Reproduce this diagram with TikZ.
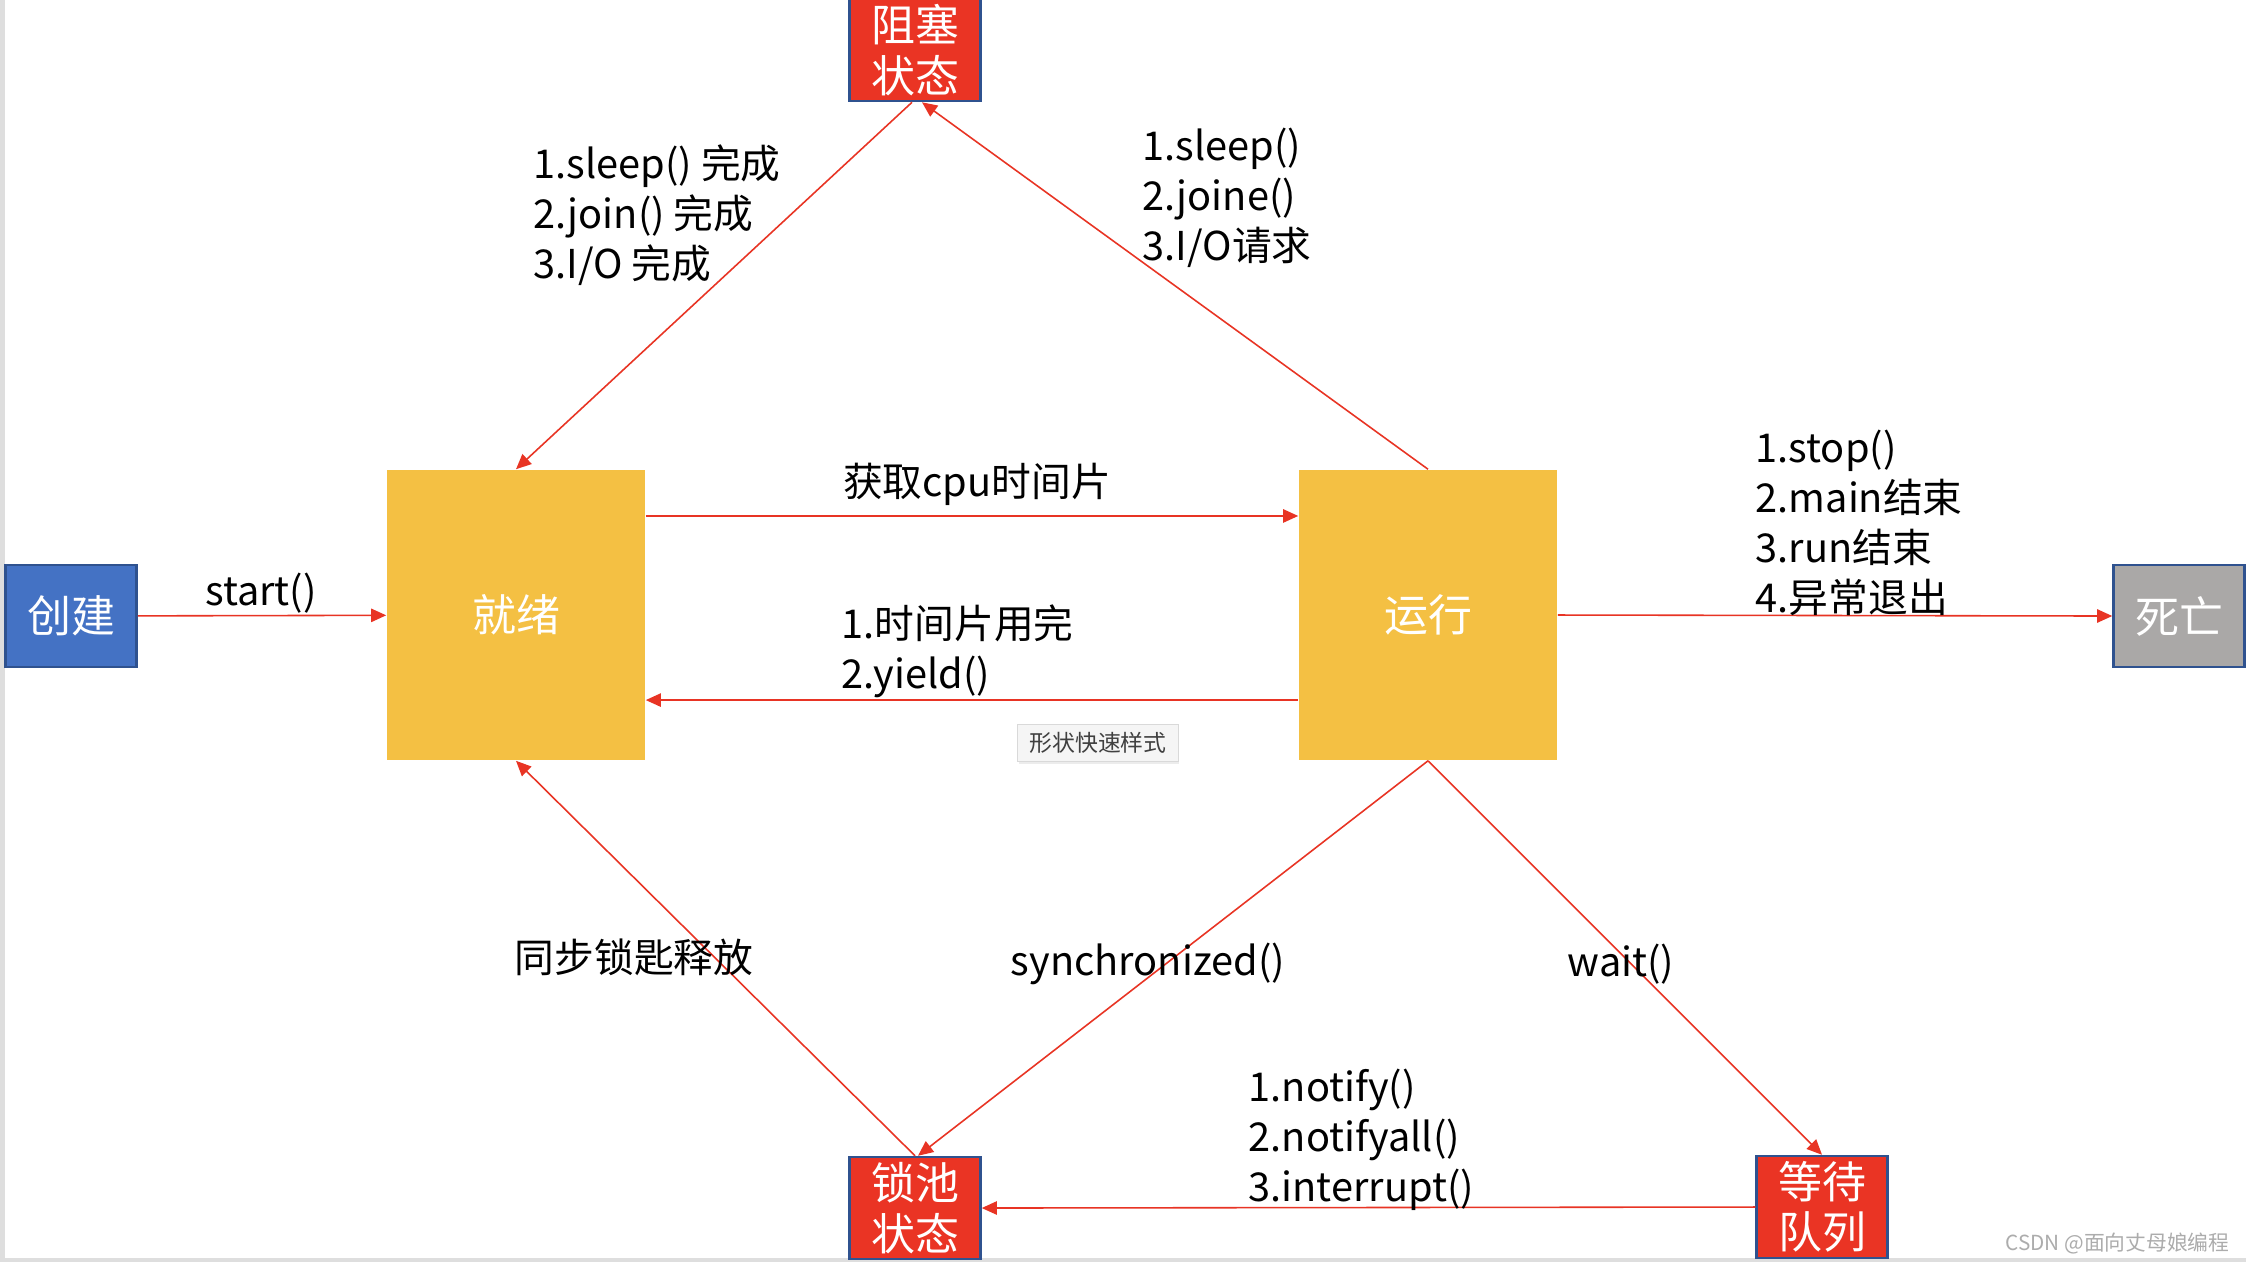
\documentclass[tikz,border=0pt]{standalone}
\usepackage{fontspec}
\setmainfont{Noto Sans CJK SC}
\usetikzlibrary{arrows.meta, positioning, shadows}
\definecolor{stateyellow}{RGB}{244,192,67}
\definecolor{stateblue}{RGB}{68,114,196}
\definecolor{statered}{RGB}{234,52,36}
\definecolor{stategray}{RGB}{170,168,167}
\definecolor{borderblue}{RGB}{47,82,143}
\definecolor{linered}{RGB}{232,52,36}
\definecolor{framegray}{RGB}{222,222,222}

\begin{document}
\begin{tikzpicture}[x=0.01cm, y=-0.01cm,
    state/.style={draw=borderblue, line width=0.7pt, text=white, align=center, inner sep=0pt,
      font=\fontsize{12.5}{14.3}\selectfont, minimum width=1.31cm, minimum height=1.02cm},
    bigstate/.style={fill=stateyellow, text=white, inner sep=0pt,
      font=\fontsize{12.5}{14.3}\selectfont, minimum width=2.58cm, minimum height=2.9cm},
    trans/.style={draw=linered, line width=0.45pt, -{Triangle[length=4.3pt, width=3.8pt]}},
    lbl/.style={font=\fontsize{11.3}{14.2}\selectfont, align=left, inner sep=0pt},
  ]
  \useasboundingbox (0,0) rectangle (2246,1262);
  \fill[white] (0,0) rectangle (2246,1262);
  \fill[framegray] (0,0) rectangle (5,1262);
  \fill[framegray] (0,1258) rectangle (2246,1262);

  % states
  \node[state, fill=stateblue] (create) at (71,616) {创建};
  \node[bigstate] (ready) at (516,615) {就绪};
  \node[bigstate] (run) at (1428,615) {运行};
  \node[state, fill=stategray] (dead) at (2179,616) {死亡};
  \node[state, fill=statered] (block) at (915,50) {阻塞\\状态};
  \node[state, fill=statered] (lock) at (915,1208) {锁池\\状态};
  \node[state, fill=statered] (wait) at (1822,1207) {等待\\队列};

  % transitions
  \draw[trans] (create) -- (ready);
  \draw[trans] ([yshift=0.99cm]ready.east) -- ([yshift=0.99cm]run.west);
  \draw[trans] ([yshift=-0.85cm]run.west) -- ([yshift=-0.85cm]ready.east);
  \draw[trans] (run.east) -- (dead.west);
  \draw[trans] (run.north) -- ([xshift=0.07cm]block.south);
  \draw[trans] ([xshift=-0.03cm]block.south) -- (ready.north);
  \draw[trans] (run.south) -- ([xshift=0.03cm]lock.north);
  \draw[trans] (lock.north) -- (ready.south);
  \draw[trans] (run.south) -- (wait.north);
  \draw[trans] (wait.west) -- (lock.east);

  % labels
  \node[lbl] (lstart) at (261,593) {start()};
  \node[lbl] (lcpu) at (977,484) {获取cpu时间片};
  \node[lbl, anchor=west] (lyield) at (841,651) {1.时间片用完\\2.yield()};
  \node[lbl, anchor=west] (ldead) at (1755,523) {1.stop()\\2.main结束\\3.run结束\\4.异常退出};
  \node[lbl, anchor=west] (lblock) at (1142,198) {1.sleep()\\2.joine()\\3.I/O请求};
  \node[lbl, anchor=west] (lwake) at (533,215) {1.sleep() 完成\\2.join() 完成\\3.I/O 完成};
  \node[lbl] (lrelease) at (634,957) {同步锁匙释放};
  \node[lbl] (lsync) at (1148,964) {synchronized()};
  \node[lbl] (lwait) at (1621,964) {wait()};
  \node[lbl, anchor=west] (lnotify) at (1248,1140) {1.notify()\\2.notifyall()\\3.interrupt()};

  \node[fill=gray!8, draw=gray!30, line width=0.3pt, text=black!75, inner sep=0pt,
    font=\fontsize{6.5}{7.5}\selectfont, minimum width=1.6cm, minimum height=0.37cm,
    drop shadow={opacity=0.15, shadow xshift=0.4pt, shadow yshift=-0.6pt}]
    (tip) at (1098,743) {形状快速样式};
  \node[text=gray!65, inner sep=0pt, font=\fontsize{5.9}{7}\selectfont, anchor=east]
    (mark) at (2230,1243) {CSDN @面向丈母娘编程};
\end{tikzpicture}
\end{document}
